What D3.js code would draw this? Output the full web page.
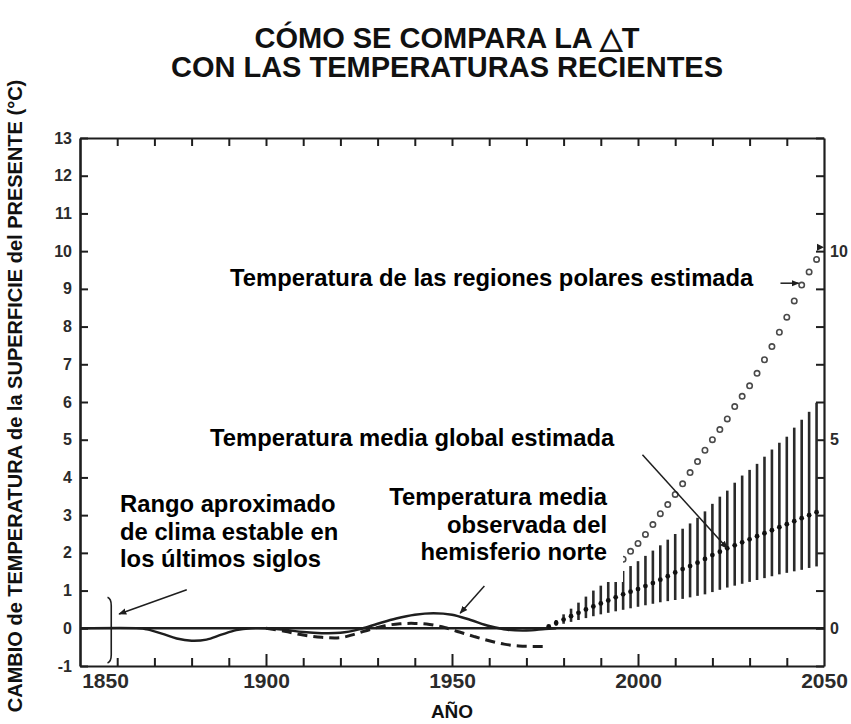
<!DOCTYPE html>
<html>
<head>
<meta charset="utf-8">
<script src="https://cdn.jsdelivr.net/npm/d3@7"></script>
<style>
  body { margin: 0; background: #fff; }
  svg { display: block; font-family: "Liberation Sans", Arial, Helvetica, sans-serif; }
</style>
</head>
<body>
<svg id="chart" width="851" height="724"></svg>
<script>
// ---------- data ----------
const yearTicks = [1850, 1860, 1870, 1880, 1890, 1900, 1910, 1920, 1930, 1940, 1950,
                   1960, 1970, 1980, 1990, 2000, 2010, 2020, 2030, 2040, 2050];
const yearLabels = ["1850", "1900", "1950", "2000", "2050"];
const tempTicks = [-1, 0, 1, 2, 3, 4, 5, 6, 7, 8, 9, 10, 11, 12, 13];
const rightLabels = [0, 5, 10];

// observed northern-hemisphere mean (solid)
const observedYears  = [1850, 1866, 1868, 1872, 1876, 1880, 1884, 1888, 1892, 1896, 1900, 1905, 1910,
                        1915, 1920, 1925, 1930, 1935, 1940, 1945, 1950, 1955, 1960, 1965, 1970, 1975, 1978];
const observedValues = [0, 0, -0.03, -0.14, -0.27, -0.33, -0.3, -0.17, -0.05, 0, 0, -0.04, -0.1,
                        -0.13, -0.12, -0.03, 0.12, 0.26, 0.36, 0.4, 0.36, 0.22, 0.06, -0.04, -0.06, -0.02, 0];

// second observed record (dashed)
const dashedYears  = [1900, 1905, 1910, 1915, 1920, 1924, 1928, 1932, 1936, 1940, 1944, 1948,
                      1952, 1956, 1960, 1964, 1968, 1972, 1976];
const dashedValues = [0, -0.08, -0.18, -0.24, -0.25, -0.15, -0.03, 0.07, 0.12, 0.13, 0.1, 0.02,
                      -0.1, -0.22, -0.33, -0.42, -0.47, -0.48, -0.48];

// estimated global mean with its range
const estYears = [1976, 1978, 1980, 1982, 1984, 1986, 1988, 1990, 1992, 1994, 1996, 1998, 2000,
                  2002, 2004, 2006, 2008, 2010, 2012, 2014, 2016, 2018, 2020, 2022, 2024, 2026,
                  2028, 2030, 2032, 2034, 2036, 2038, 2040, 2042, 2044, 2046, 2048];
const estMean  = [0.05, 0.14, 0.23, 0.32, 0.41, 0.5, 0.58, 0.66, 0.74, 0.82, 0.9, 0.97, 1.04,
                  1.12, 1.2, 1.29, 1.38, 1.48, 1.57, 1.65, 1.74, 1.84, 1.94, 2.03, 2.12, 2.2,
                  2.28, 2.36, 2.44, 2.52, 2.6, 2.68, 2.76, 2.84, 2.92, 3.0, 3.08];
const estUpper = [0.08, 0.22, 0.37, 0.52, 0.68, 0.84, 1.0, 1.13, 1.26, 1.39, 1.52, 1.65, 1.78,
                  1.92, 2.06, 2.2, 2.35, 2.5, 2.64, 2.78, 2.93, 3.1, 3.3, 3.49, 3.65, 3.86,
                  4.05, 4.2, 4.36, 4.55, 4.74, 4.92, 5.08, 5.32, 5.53, 5.74, 5.98];
const estLower = [0.02, 0.07, 0.12, 0.17, 0.22, 0.27, 0.32, 0.37, 0.41, 0.45, 0.49, 0.53, 0.57,
                  0.61, 0.65, 0.69, 0.72, 0.75, 0.78, 0.82, 0.86, 0.9, 0.96, 1.02, 1.08, 1.13,
                  1.18, 1.23, 1.28, 1.33, 1.38, 1.43, 1.47, 1.51, 1.55, 1.6, 1.64];

// estimated polar-region temperature (open circles)
const polarYears  = [1996, 1998, 2000, 2002, 2004, 2006, 2008, 2010, 2012, 2014, 2016, 2018, 2020,
                     2022, 2024, 2026, 2028, 2030, 2032, 2034, 2036, 2038, 2040, 2042, 2044, 2046, 2048];
const polarValues = [1.83, 2.04, 2.25, 2.49, 2.75, 3.04, 3.28, 3.55, 3.83, 4.13, 4.42, 4.72, 5.0,
                     5.27, 5.55, 5.88, 6.15, 6.43, 6.76, 7.12, 7.47, 7.85, 8.25, 8.68, 9.1, 9.45, 9.78];

const titleLines = ["CÓMO SE COMPARA LA \u25B3T", "CON LAS TEMPERATURAS RECIENTES"];
const yTitle = "CAMBIO de TEMPERATURA de la SUPERFICIE del PRESENTE (°C)";
const xTitle = "AÑO";
const polarLabel = "Temperatura de las regiones polares estimada";
const globalLabel = "Temperatura media global estimada";
const rangeLabel = ["Rango aproximado", "de clima estable en", "los últimos siglos"];
const observedLabel = ["Temperatura media", "observada del", "hemisferio norte"];

// ---------- layout ----------
const svg = d3.select("#chart");
const ink = "#1e1e1e";
const x = d3.scaleLinear().domain([1850, 2050]).range([80, 824]);
const y = d3.scaleLinear().domain([-1, 13]).range([666, 138]);

// title
svg.append("g").selectAll("text").data(titleLines).join("text")
  .attr("x", 447).attr("y", (d, i) => 48 + i * 29)
  .attr("text-anchor", "middle")
  .attr("font-size", 29).attr("font-weight", "bold").attr("fill", "#111")
  .text(d => d);

// axis titles
svg.append("text")
  .attr("transform", "translate(22,396) rotate(-90)")
  .attr("text-anchor", "middle")
  .attr("font-size", 20).attr("font-weight", "bold").attr("fill", "#111")
  .text(yTitle);
svg.append("text")
  .attr("x", 452).attr("y", 718)
  .attr("text-anchor", "middle")
  .attr("font-size", 19).attr("font-weight", "bold").attr("fill", "#111")
  .text(xTitle);

// ---------- axes ----------
function styleAxis(g, width) {
  g.selectAll(".domain").attr("stroke", ink).attr("stroke-width", width);
  g.selectAll(".tick line").attr("stroke", ink).attr("stroke-width", 2);
  g.selectAll(".tick text").attr("fill", "#2b2b2b").attr("font-weight", "bold")
    .attr("font-family", "'Liberation Sans', Arial, sans-serif");
}

const gLeft = svg.append("g").attr("transform", `translate(${x(1850)},0)`)
  .call(d3.axisLeft(y).tickValues(tempTicks).tickSize(-8).tickSizeOuter(0).tickPadding(8)
    .tickFormat(d3.format("d")));
gLeft.call(styleAxis, 2.6);
gLeft.selectAll(".tick text").attr("font-size", 16).text(d => d < 0 ? "-" + Math.abs(d) : d);

const gRight = svg.append("g").attr("transform", `translate(${x(2050)},0)`)
  .call(d3.axisRight(y).tickValues(tempTicks).tickSize(-8).tickSizeOuter(0).tickPadding(6)
    .tickFormat(d => rightLabels.includes(d) ? String(d) : ""));
gRight.call(styleAxis, 2.2);
gRight.selectAll(".tick text").attr("font-size", 16);

const gTop = svg.append("g").attr("transform", `translate(0,${y(13)})`)
  .call(d3.axisTop(x).tickValues(yearTicks).tickSize(-8).tickSizeOuter(0).tickFormat(""));
gTop.call(styleAxis, 2);
gTop.selectAll(".tick").filter(d => d === 1850 || d === 2050).remove();

const gBottom = svg.append("g").attr("transform", `translate(0,${y(-1)})`)
  .call(d3.axisBottom(x).tickValues(yearTicks).tickSize(-8).tickSizeOuter(0).tickPadding(7)
    .tickFormat(d => yearLabels.includes(String(d)) ? String(d) : ""));
gBottom.call(styleAxis, 2.2);
gBottom.selectAll(".tick text").attr("font-size", 21);
gBottom.selectAll(".tick").filter(d => d === 1850 || d === 2050).select("line").remove();
gBottom.selectAll(".tick").filter(d => d % 50 === 0).select("line").attr("y2", -12);
gBottom.selectAll(".tick").filter(d => d === 1850).select("text").attr("dx", 25);

// zero reference line
svg.append("line")
  .attr("x1", x(1850)).attr("x2", x(2050)).attr("y1", y(0)).attr("y2", y(0))
  .attr("stroke", ink).attr("stroke-width", 2.6);

// ---------- series ----------
const line = d3.line().x(d => x(d[0])).y(d => y(d[1])).curve(d3.curveCatmullRom.alpha(0.5));

svg.append("path")
  .datum(observedYears.map((yr, i) => [yr, observedValues[i]]))
  .attr("d", line).attr("fill", "none").attr("stroke", ink).attr("stroke-width", 2.4);

svg.append("path")
  .datum(dashedYears.map((yr, i) => [yr, dashedValues[i]]))
  .attr("d", line).attr("fill", "none").attr("stroke", ink).attr("stroke-width", 3)
  .attr("stroke-dasharray", "10,6");

// range bars
svg.append("g").selectAll("line").data(estYears).join("line")
  .attr("x1", d => x(d)).attr("x2", d => x(d))
  .attr("y1", (d, i) => y(estLower[i])).attr("y2", (d, i) => y(estUpper[i]))
  .attr("stroke", "#2a2a2a").attr("stroke-width", 2.6);

// mean points
svg.append("g").selectAll("circle").data(estYears).join("circle")
  .attr("cx", d => x(d)).attr("cy", (d, i) => y(estMean[i])).attr("r", 2.4)
  .attr("fill", "#111");

// polar estimates
svg.append("g").selectAll("circle").data(polarYears).join("circle")
  .attr("cx", d => x(d)).attr("cy", (d, i) => y(polarValues[i])).attr("r", 2.7)
  .attr("fill", "#fff").attr("stroke", "#4a4a4a").attr("stroke-width", 1.6);

// small marker on the right axis at 10
svg.append("path")
  .attr("d", `M${x(2050) - 7},${y(10.1) - 3.5}L${x(2050)},${y(10.1)}L${x(2050) - 7},${y(10.1) + 3.5}Z`)
  .attr("fill", ink);

// range bracket near 1858
const bx = x(1858.4), bx0 = x(1857.4);
svg.append("path")
  .attr("d", `M${bx0},${y(0.82)}Q${bx},${y(0.78)} ${bx},${y(0.6)}L${bx},${y(-0.7)}Q${bx},${y(-0.88)} ${bx0},${y(-0.92)}`)
  .attr("fill", "none").attr("stroke", ink).attr("stroke-width", 1.6);

// ---------- annotations ----------
const defs = svg.append("defs");
defs.append("marker").attr("id", "arrow").attr("viewBox", "0 0 10 10")
  .attr("refX", 9).attr("refY", 5).attr("markerWidth", 8).attr("markerHeight", 8)
  .attr("markerUnits", "userSpaceOnUse").attr("orient", "auto")
  .append("path").attr("d", "M0,1L10,5L0,9Z").attr("fill", ink);

function leader(x1, y1, x2, y2) {
  svg.append("line").attr("x1", x1).attr("y1", y1).attr("x2", x2).attr("y2", y2)
    .attr("stroke", ink).attr("stroke-width", 1.5).attr("marker-end", "url(#arrow)");
}

// white plates behind label blocks
svg.append("rect").attr("x", 114).attr("y", 487).attr("width", 226).attr("height", 100).attr("fill", "#fff");
svg.append("rect").attr("x", 384).attr("y", 480).attr("width", 239).attr("height", 102).attr("fill", "#fff");

const labelFont = 23.8;
function label(lines, xPos, y0, anchor) {
  svg.append("g").selectAll("text").data(lines).join("text")
    .attr("x", xPos).attr("y", (d, i) => y0 + i * 27.5)
    .attr("text-anchor", anchor)
    .attr("font-size", labelFont).attr("font-weight", "bold").attr("fill", "#000")
    .text(d => d);
}
label([polarLabel], 230, 286, "start");
label([globalLabel], 210, 446, "start");
label(rangeLabel, 120, 512, "start");
label(observedLabel, 607, 505, "end");

// leaders
leader(x(1878.7), y(1.02), x(1860.5), y(0.38));
leader(x(1958.7), y(1.12), x(1952.2), y(0.4));
leader(x(2001.2), y(4.6), x(2024), y(2.12));
leader(x(2038.3), y(9.15), x(2043.2), y(9.15));
</script>
</body>
</html>
